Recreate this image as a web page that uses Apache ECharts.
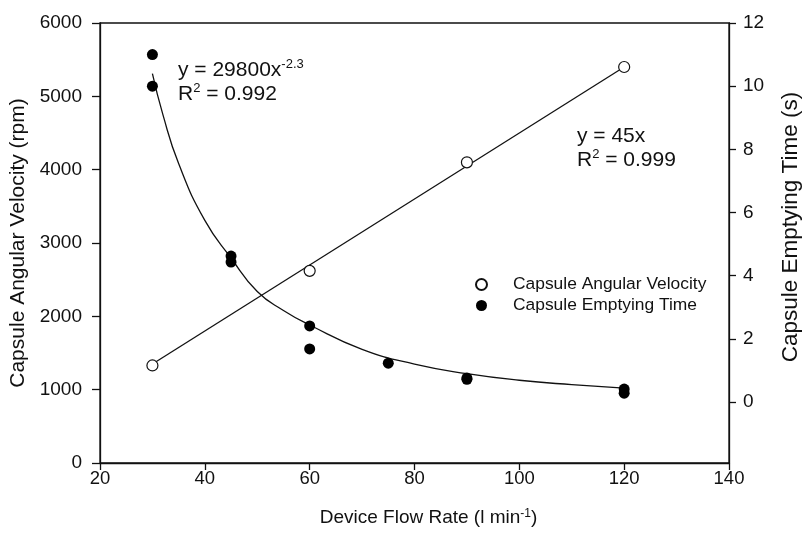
<!DOCTYPE html>
<html>
<head>
<meta charset="utf-8">
<script src="https://cdn.jsdelivr.net/npm/echarts@6/dist/echarts.min.js"></script>
<style>
  html, body { margin: 0; padding: 0; background: #fff; }
  #chart { width: 806px; height: 535px; }
</style>
</head>
<body>
<div id="chart"></div>
<script>
// values
var flowRate = [30, 60, 90, 120];
var angularVelocity = [1330, 2620, 4100, 5400];

var emptyFlow = [30, 30, 45, 45, 60, 60, 75, 90, 90, 120, 120];
var emptyTime = [11.0, 10.0, 4.62, 4.43, 2.41, 1.68, 1.23, 0.76, 0.72, 0.41, 0.28];

// fitted lines as drawn
var linFitX = [30, 120];
var linFitY = [1350, 5400];
var powFitX = [30, 32, 35, 40, 45, 50, 55, 60, 70, 80, 90, 100, 110, 120];
var powFitY = [10.4, 9.1, 7.55, 5.75, 4.56, 3.5, 2.9, 2.44, 1.67, 1.2, 0.9, 0.69, 0.55, 0.44];

var rightTicks = [0, 2, 4, 6, 8, 10, 12];

function pairs(xs, ys) {
  var out = [];
  for (var i = 0; i < xs.length; i++) out.push([xs[i], ys[i]]);
  return out;
}

var FONT = 'Liberation Sans, Arial, sans-serif';
var INK = '#111';

var chart = echarts.init(document.getElementById('chart'));
var option = {
  animation: false,
  textStyle: { fontFamily: FONT, color: INK },
  grid: {
    left: 100, right: 77, top: 23, bottom: 72,
    containLabel: false, outerBoundsMode: 'none',
    show: true, borderColor: INK, borderWidth: 1.3
  },
  legend: {
    orient: 'vertical',
    left: 470, top: 271,
    itemWidth: 11, itemHeight: 11, itemGap: 4,
    data: ['Capsule Angular Velocity', 'Capsule Emptying Time'],
    textStyle: { fontFamily: FONT, fontSize: 17.4, color: INK, padding: [0, 0, 0, 21], lineHeight: 16 }
  },
  xAxis: {
    type: 'value', min: 20, max: 140, interval: 20,
    name: 'Device Flow Rate (l min{sup|-1})',
    nameLocation: 'middle', nameGap: 45,
    nameTextStyle: {
      fontFamily: FONT, fontSize: 19, color: INK, padding: [0, 0, 0, 28],
      rich: { sup: { fontFamily: FONT, fontSize: 12, color: INK, verticalAlign: 'top', padding: [0, 0, 8, 0] } }
    },
    axisLine: { lineStyle: { color: INK, width: 1.3 } },
    axisTick: { length: 7, lineStyle: { color: INK, width: 1.3 } },
    axisLabel: { fontFamily: FONT, fontSize: 18.5, color: INK, margin: 6 },
    splitLine: { show: false }
  },
  yAxis: [{
    type: 'value', min: 0, max: 6000, interval: 1000,
    name: 'Capsule Angular Velocity (rpm)',
    nameLocation: 'middle', nameGap: 62, nameRotate: 90,
    nameTextStyle: { fontFamily: FONT, fontSize: 21, color: INK },
    axisLine: { show: true, lineStyle: { color: INK, width: 1.3 } },
    axisTick: { show: true, length: 8, lineStyle: { color: INK, width: 1.3 } },
    axisLabel: { fontFamily: FONT, fontSize: 19, color: INK, margin: 18, formatter: function (v) { return String(v); } },
    splitLine: { show: false }
  }, {
    type: 'value', min: -1.93, max: 12, position: 'right',
    name: 'Capsule Emptying Time (s)',
    nameLocation: 'middle', nameGap: 50, nameRotate: 90,
    nameTextStyle: { fontFamily: FONT, fontSize: 22.5, color: INK, padding: [0, 0, 0, 32] },
    axisLine: { show: true, lineStyle: { color: INK, width: 1.3 } },
    axisTick: { show: true, length: 7, customValues: rightTicks, lineStyle: { color: INK, width: 1.3 } },
    axisLabel: { fontFamily: FONT, fontSize: 19, color: INK, margin: 14, customValues: rightTicks },
    splitLine: { show: false }
  }],
  graphic: [
    {
      type: 'text', left: 178, top: 58,
      style: {
        text: 'y = 29800x{sup|-2.3}\nR{sup|2} = 0.992',
        fontFamily: FONT, fontSize: 21, fill: INK, lineHeight: 24,
        rich: { sup: { fontFamily: FONT, fontSize: 13, fill: INK, verticalAlign: 'top', lineHeight: 24, padding: [0, 0, 10, 0] } }
      }
    },
    {
      type: 'text', left: 577, top: 124,
      style: {
        text: 'y = 45x\nR{sup|2} = 0.999',
        fontFamily: FONT, fontSize: 21, fill: INK, lineHeight: 24,
        rich: { sup: { fontFamily: FONT, fontSize: 13, fill: INK, verticalAlign: 'top', lineHeight: 24, padding: [0, 0, 10, 0] } }
      }
    }
  ],
  series: [
    {
      name: 'linear fit', type: 'line', yAxisIndex: 0,
      data: pairs(linFitX, linFitY),
      showSymbol: false, silent: true,
      lineStyle: { color: INK, width: 1.3 }
    },
    {
      name: 'power fit', type: 'line', yAxisIndex: 1, smooth: true,
      data: pairs(powFitX, powFitY),
      showSymbol: false, silent: true,
      lineStyle: { color: INK, width: 1.3 }
    },
    {
      name: 'Capsule Angular Velocity', type: 'scatter', yAxisIndex: 0,
      data: pairs(flowRate, angularVelocity),
      symbol: 'circle', symbolSize: 11,
      itemStyle: { color: '#fff', borderColor: INK, borderWidth: 1.2, opacity: 1 },
      z: 5
    },
    {
      name: 'Capsule Emptying Time', type: 'scatter', yAxisIndex: 1,
      data: pairs(emptyFlow, emptyTime),
      symbol: 'circle', symbolSize: 11,
      itemStyle: { color: '#000', borderWidth: 0, opacity: 1 },
      z: 5
    }
  ]
};
chart.setOption(option);
</script>
</body>
</html>
